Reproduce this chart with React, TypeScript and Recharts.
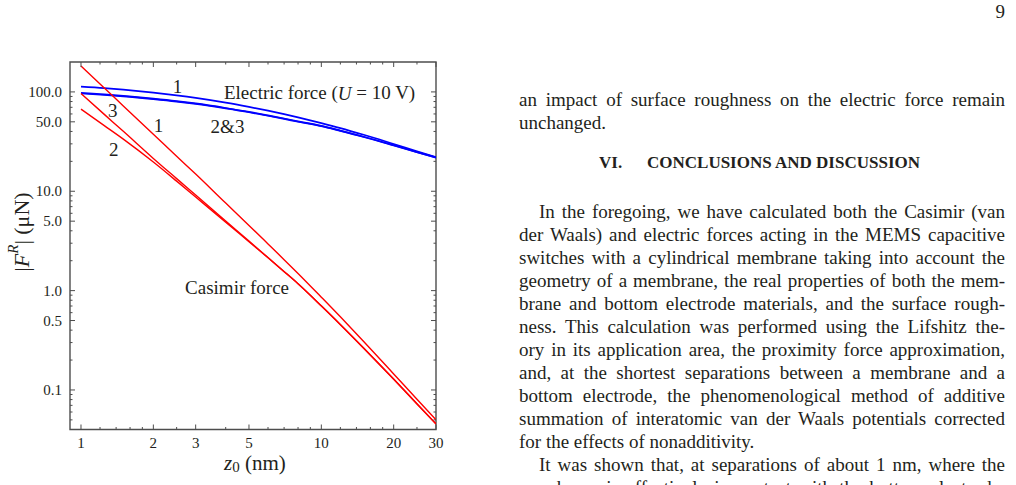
import React from 'react';
import { LineChart, Line, XAxis, YAxis, ReferenceArea, ReferenceDot } from 'recharts';

// Separation between membrane and electrode, z0 (nm)
const separations = [1, 1.25, 1.5, 2, 2.5, 3, 4, 5, 6, 7, 8, 10, 12, 15, 20, 25, 30];

// Casimir force magnitudes |F^R| (μN) for curves 1, 2, 3
const casimir1 = [182, 109.4, 72.3, 37.5, 22.5, 14.9, 7.6, 4.53, 2.95, 2.05, 1.49, 0.859, 0.545, 0.308, 0.145, 0.0805, 0.0501];
const casimir2 = [67.0, 45.8, 33.5, 19.7, 12.65, 8.75, 4.89, 3.1, 2.14, 1.55, 1.17, 0.7, 0.454, 0.263, 0.128, 0.0723, 0.0453];
const casimir3 = [96.4, 59.4, 40.1, 21.4, 13.4, 9.16, 5.02, 3.15, 2.15, 1.56, 1.175, 0.703, 0.457, 0.265, 0.129, 0.0728, 0.0456];

// Electric force magnitudes |F^R| (μN) at U = 10 V for curves 1, 2, 3
const electric1 = [113.2, 109.2, 105.2, 98.2, 92.3, 87.1, 78.0, 70.6, 64.7, 59.7, 55.4, 48.5, 43.2, 37.0, 29.9, 25.3, 22.1];
const electric2 = [96.4, 93.1, 90.2, 84.7, 80.0, 75.7, 68.2, 62.4, 57.5, 53.5, 50.1, 45.2, 40.5, 35.2, 28.9, 24.7, 21.8];
const electric3 = [97.6, 94.3, 91.3, 85.7, 80.9, 76.5, 68.9, 63.0, 58.0, 54.0, 50.5, 45.5, 40.8, 35.4, 29.1, 24.8, 21.9];

const xMajorTicks = [1, 2, 3, 5, 10, 20, 30];
const xMinorTicks = [1.2, 1.4, 1.6, 1.8, 2.5, 4, 6, 7, 8, 9, 12, 14, 16, 18, 25];
const yMajorTicks = [0.1, 0.5, 1, 5, 10, 50, 100];
const yMinorTicks = [0.05, 0.06, 0.07, 0.08, 0.09, 0.2, 0.3, 0.4, 0.6, 0.7, 0.8, 0.9, 2, 3, 4, 6, 7, 8, 9, 20, 30, 40, 60, 70, 80, 90];

const data = separations.map((z, i) => ({
  z,
  c1: casimir1[i],
  c2: casimir2[i],
  c3: casimir3[i],
  e1: electric1[i],
  e2: electric2[i],
  e3: electric3[i],
}));

const SERIF = '"Liberation Serif", "Times New Roman", Times, serif';
const INK = '#231f20';
const FRAME = '#4d4d4d';
const RED = '#ff0000';
const BLUE = '#0000ff';

const W = 470;
const H = 485;
const MARGIN = { top: 62, right: 34, left: 30, bottom: 25.5 };
const Y_AXIS_W = 40;
const X_AXIS_H = 30;
const PLOT_TOP = MARGIN.top;
const PLOT_RIGHT = W - MARGIN.right;

function XTick(props: any) {
  const { x, y, payload } = props;
  const v = payload.value;
  const major = xMajorTicks.includes(v);
  const len = major ? 5 : 2.5;
  return (
    <g>
      <line x1={x} x2={x} y1={y} y2={y - len} stroke={FRAME} strokeWidth={1} />
      <line x1={x} x2={x} y1={PLOT_TOP} y2={PLOT_TOP + len} stroke={FRAME} strokeWidth={1} />
      {major && (
        <text x={x} y={y + 13} textAnchor="middle" dominantBaseline="central" fontSize={15} fill={INK} fontFamily={SERIF}>
          {String(v)}
        </text>
      )}
    </g>
  );
}

function YTick(props: any) {
  const { x, y, payload } = props;
  const v = payload.value;
  const major = yMajorTicks.includes(v);
  const len = major ? 5 : 2.5;
  return (
    <g>
      <line x1={x} x2={x + len} y1={y} y2={y} stroke={FRAME} strokeWidth={1} />
      <line x1={PLOT_RIGHT} x2={PLOT_RIGHT - len} y1={y} y2={y} stroke={FRAME} strokeWidth={1} />
      {major && (
        <text x={x - 8} y={y} textAnchor="end" dominantBaseline="central" fontSize={15} fill={INK} fontFamily={SERIF}>
          {v.toFixed(1)}
        </text>
      )}
    </g>
  );
}

// Text placed at the centre of a reference dot
const note = (content: React.ReactNode, size = 19) => (p: any) => {
  const vb = p.viewBox || {};
  const cx = (vb.x ?? 0) + (vb.width ?? 0) / 2;
  const cy = (vb.y ?? 0) + (vb.height ?? 0) / 2;
  return (
    <text x={cx} y={cy} textAnchor="middle" dominantBaseline="central" fontSize={size} fill={INK} fontFamily={SERIF}>
      {content}
    </text>
  );
};

const xTitle = () => (
  <text x={255} y={463} textAnchor="middle" dominantBaseline="central" fontSize={21} fill={INK} fontFamily={SERIF}>
    <tspan fontStyle="italic">z</tspan>
    <tspan fontSize={15} dy={4}>0</tspan>
    <tspan dy={-4}> (nm)</tspan>
  </text>
);

const yTitle = () => (
  <text
    x={21}
    y={232}
    transform="rotate(-90 21 232)"
    textAnchor="middle"
    dominantBaseline="central"
    fontSize={22}
    fill={INK}
    fontFamily={SERIF}
  >
    |<tspan fontStyle="italic">F</tspan>
    <tspan fontStyle="italic" fontSize={15} dy={-8}>R</tspan>
    <tspan dy={8}>| (μN)</tspan>
  </text>
);

const FORCE_CHART = (
  <LineChart width={W} height={H} data={data} margin={MARGIN}>
    <XAxis
      dataKey="z"
      type="number"
      scale="log"
      domain={[0.9, 30]}
      allowDataOverflow
      ticks={[...xMajorTicks, ...xMinorTicks]}
      interval={0}
      height={X_AXIS_H}
      tickSize={0}
      tickMargin={0}
      tickLine={false}
      axisLine={false}
      tick={<XTick />}
      label={xTitle}
    />
    <YAxis
      type="number"
      scale="log"
      domain={[0.04, 200]}
      allowDataOverflow
      ticks={[...yMajorTicks, ...yMinorTicks]}
      interval={0}
      width={Y_AXIS_W}
      tickSize={0}
      tickMargin={0}
      tickLine={false}
      axisLine={false}
      tick={<YTick />}
      label={yTitle}
    />
    <ReferenceArea x1={0.9} x2={30} y1={0.04} y2={200} fill="none" stroke={FRAME} strokeWidth={1.4} ifOverflow="visible" />
    <Line dataKey="e1" type="monotone" stroke={BLUE} strokeWidth={1.7} dot={false} activeDot={false} isAnimationActive={false} />
    <Line dataKey="e2" type="monotone" stroke={BLUE} strokeWidth={1.7} dot={false} activeDot={false} isAnimationActive={false} />
    <Line dataKey="e3" type="monotone" stroke={BLUE} strokeWidth={1.7} dot={false} activeDot={false} isAnimationActive={false} />
    <Line dataKey="c1" type="monotone" stroke={RED} strokeWidth={1.4} dot={false} activeDot={false} isAnimationActive={false} />
    <Line dataKey="c2" type="monotone" stroke={RED} strokeWidth={1.4} dot={false} activeDot={false} isAnimationActive={false} />
    <Line dataKey="c3" type="monotone" stroke={RED} strokeWidth={1.4} dot={false} activeDot={false} isAnimationActive={false} />
    <ReferenceDot x={2.52} y={114} r={1} fill="none" stroke="none" label={note('1')} />
    <ReferenceDot
      x={9.83}
      y={98.6}
      r={1}
      fill="none"
      stroke="none"
      label={note(
        <>
          Electric force (<tspan fontStyle="italic">U</tspan> = 10 V)
        </>,
      )}
    />
    <ReferenceDot x={1.354} y={65.5} r={1} fill="none" stroke="none" label={note('3')} />
    <ReferenceDot x={2.1} y={46.4} r={1} fill="none" stroke="none" label={note('1')} />
    <ReferenceDot x={4.07} y={44.8} r={1} fill="none" stroke="none" label={note('2&3')} />
    <ReferenceDot x={1.367} y={26.6} r={1} fill="none" stroke="none" label={note('2')} />
    <ReferenceDot x={4.46} y={1.067} r={1} fill="none" stroke="none" label={note('Casimir force')} />
  </LineChart>
);

// Right-hand column of the page
const COL_LEFT = 519;
const COL_WIDTH = 486;
const LINE_STEP = 23;
const FIRST_LINE = 213.5;

const paragraphLines = [
  { text: 'In the foregoing, we have calculated both the Casimir (van', indent: true, last: false },
  { text: 'der Waals) and electric forces acting in the MEMS capacitive', indent: false, last: false },
  { text: 'switches with a cylindrical membrane taking into account the', indent: false, last: false },
  { text: 'geometry of a membrane, the real properties of both the mem-', indent: false, last: false },
  { text: 'brane and bottom electrode materials, and the surface rough-', indent: false, last: false },
  { text: 'ness. This calculation was performed using the Lifshitz the-', indent: false, last: false },
  { text: 'ory in its application area, the proximity force approximation,', indent: false, last: false },
  { text: 'and, at the shortest separations between a membrane and a', indent: false, last: false },
  { text: 'bottom electrode, the phenomenological method of additive', indent: false, last: false },
  { text: 'summation of interatomic van der Waals potentials corrected', indent: false, last: false },
  { text: 'for the effects of nonadditivity.', indent: false, last: true },
  { text: 'It was shown that, at separations of about 1 nm, where the', indent: true, last: false },
  { text: 'membrane is effectively in contact with the bottom electrode,', indent: false, last: false },
];

function TextLine({ text, center, indent, last }: { text: string; center: number; indent?: boolean; last?: boolean }) {
  const pad = indent ? 20 : 0;
  return (
    <div
      style={{
        position: 'absolute',
        left: COL_LEFT + pad,
        width: COL_WIDTH - pad,
        top: center - 13.5,
        fontSize: 19,
        lineHeight: '23px',
        whiteSpace: 'nowrap',
        textAlign: last ? 'left' : 'justify',
        textAlignLast: last ? 'left' : 'justify',
      }}
    >
      {text}
    </div>
  );
}

export default function App() {
  return (
    <div
      style={{
        position: 'absolute',
        left: 0,
        top: 0,
        width: 1016,
        height: 485,
        overflow: 'hidden',
        background: '#ffffff',
        fontFamily: SERIF,
        color: INK,
      }}
    >
      <div style={{ position: 'absolute', left: 0, top: 0 }}>{FORCE_CHART}</div>

      <div
        style={{
          position: 'absolute',
          right: 1016 - 1005,
          top: 0,
          fontSize: 19,
          lineHeight: '23px',
        }}
      >
        9
      </div>

      <TextLine text="an impact of surface roughness on the electric force remain" center={101} />
      <TextLine text="unchanged." center={124} last />

      <div style={{ position: 'absolute', left: 599, top: 153, fontSize: 17, lineHeight: '20px', fontWeight: 'bold' }}>
        VI.
      </div>
      <div style={{ position: 'absolute', left: 647, top: 153, fontSize: 17, lineHeight: '20px', fontWeight: 'bold' }}>
        CONCLUSIONS AND DISCUSSION
      </div>

      {paragraphLines.map((l, k) => (
        <TextLine key={k} text={l.text} center={FIRST_LINE + LINE_STEP * k} indent={l.indent} last={l.last} />
      ))}
    </div>
  );
}
